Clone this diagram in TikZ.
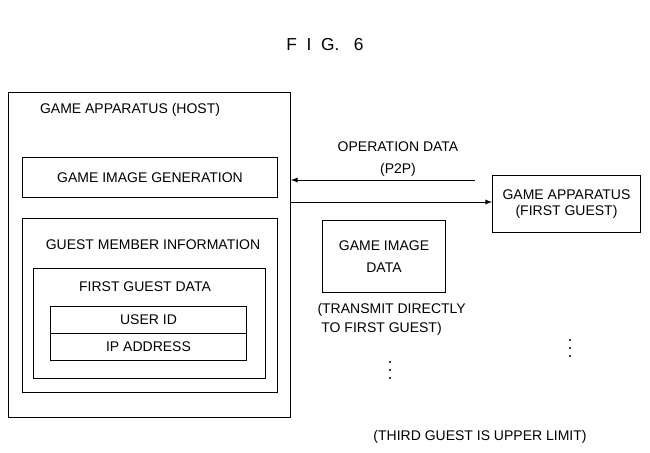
\documentclass[tikz,border=0pt]{standalone}
\usepackage{fontspec}
\setmainfont{Liberation Sans}
\tikzset{every picture/.style={line width=0.75pt}}
\tikzset{
  box/.style={draw, inner sep=0pt, anchor=north west},
  lbl/.style={inner sep=0.75pt, font=\fontsize{10.5}{12.5}\selectfont},
}

\begin{document}
\begin{tikzpicture}[x=0.75pt,y=0.75pt,yscale=-1,xscale=1]
\useasboundingbox (0,0) rectangle (650,453);

% Title
\node[lbl, font=\fontsize{13}{15}\selectfont] (title) at (325,45) {F\ \ I\ \ G.\ \ \ 6};

%Shape: Rectangle [host]
\node[box, minimum width=282*0.75pt, minimum height=325*0.75pt] (host) at (8,92) {};
\node[lbl] (hostlbl) at (130,110) {GAME APPARATUS (HOST)};
%Shape: Rectangle [image generation]
\node[box, minimum width=255*0.75pt, minimum height=40*0.75pt] (imggen) at (22,157) {};
\node[lbl] at (imggen.center) {GAME IMAGE GENERATION};
%Shape: Rectangle [guest member information]
\node[box, minimum width=255*0.75pt, minimum height=174*0.75pt] (members) at (22,218) {};
\node[lbl] (memberslbl) at (153,245) {GUEST MEMBER INFORMATION};
%Shape: Rectangle [first guest data]
\node[box, minimum width=232*0.75pt, minimum height=110*0.75pt] (firstdata) at (33,268) {};
\node[lbl] (firstdatalbl) at (145,287) {FIRST GUEST DATA};
%Shape: Rectangle [user id / ip address]
\node[box, minimum width=196*0.75pt, minimum height=27*0.75pt] (userid) at (50,306) {};
\node[lbl] at (userid.center) {USER ID};
\node[box, minimum width=196*0.75pt, minimum height=27*0.75pt] (ipaddr) at (50,333) {};
\node[lbl] at (ipaddr.center) {IP ADDRESS};

%Shape: Rectangle [first guest]
\node[box, minimum width=148*0.75pt, minimum height=57*0.75pt] (guest1) at (492,175) {};
\node[lbl, align=center] at (guest1.center) {GAME APPARATUS\\(FIRST GUEST)};
%Shape: Rectangle [game image data]
\node[box, minimum width=123*0.75pt, minimum height=72*0.75pt] (imgdata) at (322,220) {};
\node[lbl, align=center] at (imgdata.center) {GAME IMAGE\\[4pt]DATA};

%Straight Lines [operation data / image]
\coordinate (opsrc) at (475,180);
\coordinate (imgsrc) at (290,202);
\draw[-latex] (opsrc) -- (opsrc -| host.east);
\draw[-latex] (imgsrc) -- (imgsrc -| guest1.west);

% Text Node
\node[lbl] (oplbl) at (398,147) {OPERATION DATA};
\node[lbl] (p2plbl) at (398,170) {(P2P)};
\node[lbl, align=left, anchor=north west] (sendlbl) at (316,302) {(TRANSMIT DIRECTLY\\[2pt]\ TO FIRST GUEST)};
\node[lbl] (limitlbl) at (480,437) {(THIRD GUEST IS UPPER LIMIT)};

% Dots
\foreach \y in {0,8,16} {
  \fill (390,362+\y) circle (1.2);
  \fill (570,340+\y) circle (1.2);
}

\end{tikzpicture}
\end{document}
